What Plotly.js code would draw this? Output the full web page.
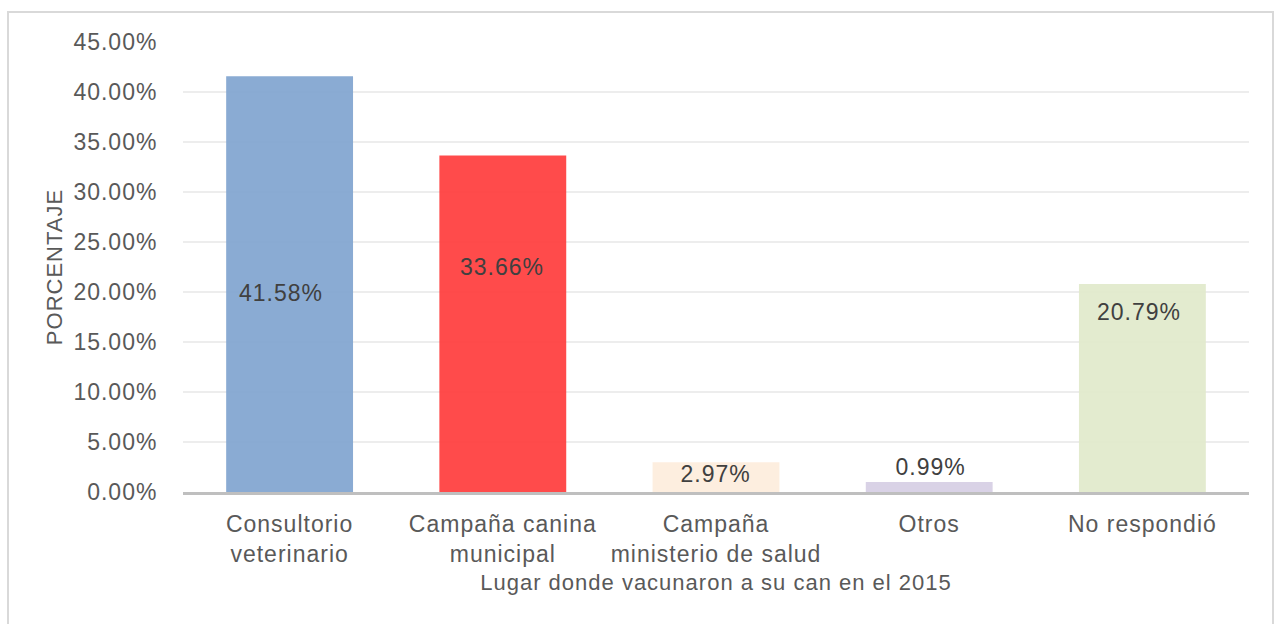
<!DOCTYPE html>
<html>
<head>
<meta charset="utf-8">
<script src="https://cdn.plot.ly/plotly-3.0.1.min.js"></script>
<style>
  html, body { margin: 0; padding: 0; background: #ffffff; }
  #wrap { position: relative; width: 1280px; height: 624px; }
  #chart { width: 1280px; height: 624px; }
  #frame { position: absolute; left: 7px; top: 11px; width: 1267px; height: 620px;
           border: 2px solid #D9D9D9; box-sizing: border-box; pointer-events: none; }
  #chart svg text { letter-spacing: 1px; }
</style>
</head>
<body>
<div id="wrap">
  <div id="chart"></div>
  <div id="frame"></div>
</div>
<script>
// ---- data ----
const categories = ["Consultorio<br>veterinario", "Campaña canina<br>municipal", "Campaña<br>ministerio de salud", "Otros", "No respondió"];
const values = [41.58, 33.66, 2.97, 0.99, 20.79];
const valueLabels = ["41.58%", "33.66%", "2.97%", "0.99%", "20.79%"];
const tickValues = [0, 5, 10, 15, 20, 25, 30, 35, 40, 45];
const tickLabels = ["0.00%", "5.00%", "10.00%", "15.00%", "20.00%", "25.00%", "30.00%", "35.00%", "40.00%", "45.00%"];

// ---- styles ----
const barColors = ["#7DA2CE", "#FF3737", "#FDECDC", "#D5CDE3", "#E0E9CA"];
const labelShiftPx = [-217, -112, -12, 15, -28];
const labelXShiftPx = [-9, -1, -1, 1, -3];
const FONT = "Liberation Sans, Arial, sans-serif";

const trace = {
  type: "bar",
  x: categories,
  y: values,
  marker: { color: barColors, opacity: 0.9, line: { width: 0 } },
  hoverinfo: "none"
};

const annotations = categories.map((c, i) => ({
  x: c, y: values[i], xref: "x", yref: "y",
  text: valueLabels[i], showarrow: false,
  yanchor: "middle", xanchor: "center",
  yshift: labelShiftPx[i], xshift: labelXShiftPx[i],
  font: { family: FONT, size: 23, color: "#404040" }
}));

const layout = {
  width: 1280, height: 624,
  margin: { l: 183, r: 31, t: 42, b: 132 },
  paper_bgcolor: "#ffffff", plot_bgcolor: "#ffffff",
  bargap: 0.405,
  showlegend: false,
  font: { family: FONT, color: "#595959" },
  xaxis: {
    type: "category",
    tickfont: { family: FONT, size: 23, color: "#595959" },
    ticks: "outside", ticklen: 9, tickcolor: "rgba(0,0,0,0)",
    showline: true, linecolor: "#BFBFBF", linewidth: 3,
    showgrid: false, zeroline: false,
    title: { text: "Lugar donde vacunaron a su can en el 2015", font: { family: FONT, size: 22, color: "#595959" }, standoff: 10 },
    automargin: false
  },
  yaxis: {
    range: [0, 45],
    tickmode: "array", tickvals: tickValues, ticktext: tickLabels,
    tickfont: { family: FONT, size: 23, color: "#595959" },
    ticks: "outside", ticklen: 20, tickcolor: "rgba(0,0,0,0)",
    showgrid: true, gridcolor: "#EDEDED", gridwidth: 2,
    zeroline: false, showline: false,
    title: { text: "PORCENTAJE", font: { family: FONT, size: 22, color: "#595959" }, standoff: 10 },
    automargin: false
  },
  annotations: annotations
};

Plotly.newPlot("chart", [trace], layout, { displayModeBar: false, staticPlot: true });
</script>
</body>
</html>
